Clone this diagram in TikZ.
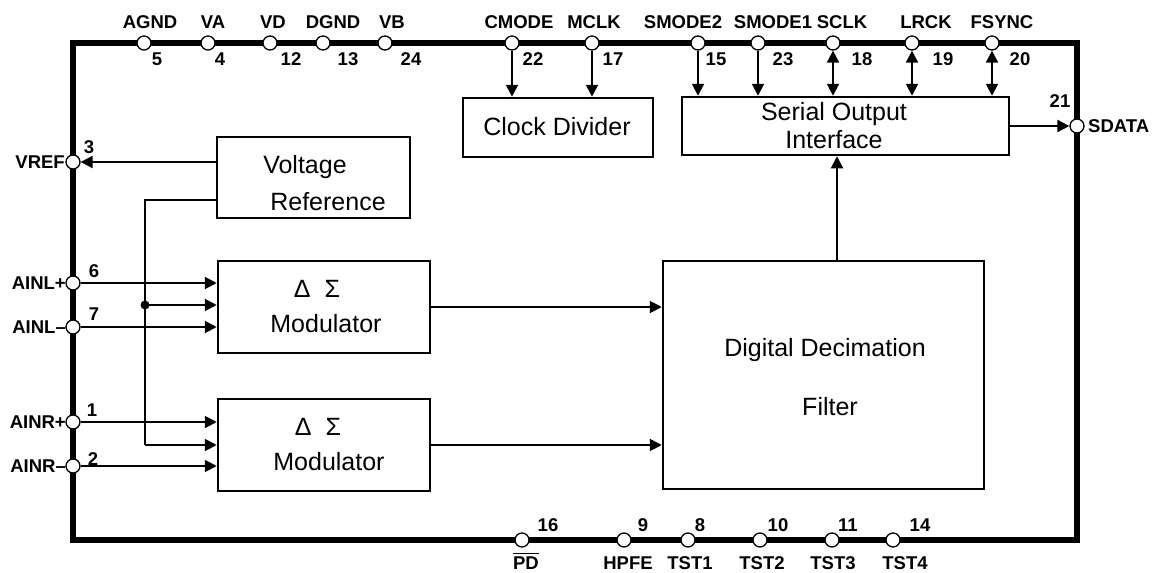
\documentclass[tikz,border=0pt]{standalone}
\usepackage{fontspec}
\setmainfont{Liberation Sans}
\usetikzlibrary{arrows.meta}
\begin{document}
\begin{tikzpicture}[x=1pt,y=-1pt,
  box/.style={draw,line width=2.5pt,inner sep=0pt},
  pin/.style={circle,draw,fill=white,line width=1.3pt,minimum size=14pt,inner sep=0pt},
  wire/.style={line width=2pt},
  arr/.style={wire,-{Triangle[length=12pt,width=12pt]}},
  darr/.style={wire,{Triangle[length=12pt,width=12pt]}-{Triangle[length=12pt,width=12pt]}},
  pl/.style={font=\fontsize{18.5}{22}\selectfont\bfseries,inner sep=0pt},
  bt/.style={font=\fontsize{25}{30}\selectfont,inner sep=0pt},
  chip/.style={line width=5.5pt}
]
\useasboundingbox (0,0) rectangle (1157,573);
% chip outline
\draw[chip] (73,43) rectangle (1077,540);

% blocks
\node[box,minimum width=190pt,minimum height=59pt] (cd) at (558,127.5) {};
\node[box,minimum width=327pt,minimum height=58pt] (so) at (845.5,126) {};
\node[box,minimum width=193pt,minimum height=81pt] (vr) at (313.5,177.5) {};
\node[box,minimum width=212pt,minimum height=92pt] (mod1) at (324,307) {};
\node[box,minimum width=212pt,minimum height=92pt] (mod2) at (324,445) {};
\node[box,minimum width=321pt,minimum height=228pt] (ddf) at (823.5,375) {};

% block texts
\node[bt] (tcd) at (557,127) {Clock Divider};
\node[bt] (tso1) at (834,114) {Serial Output};
\node[bt] (tso2) at (834,140) {Interface};
\node[bt] (tvr1) at (305,167) {Voltage};
\node[bt] (tvr2) at (328,202) {Reference};
\node[bt] (tm1a) at (317,289) {Δ\ \ Σ};
\node[bt] (tm1b) at (326,324) {Modulator};
\node[bt] (tm2a) at (318,427) {Δ\ \ Σ};
\node[bt] (tm2b) at (329,462) {Modulator};
\node[bt] (tddf1) at (825,350) {Digital Decimation};
\node[bt] (tddf2) at (830,407) {Filter};

% top pins
\foreach \nm/\x/\lx/\nx/\num in {AGND/144/150/157/5, VA/208/213/220/4, VD/270/273/291/12,
  DGND/323/333/348/13, VB/385/392/411/24, CMODE/512/519/533/22, MCLK/592/594/613/17,
  SMODE2/698/683/716/15, SMODE1/758/773/783/23, SCLK/833/842/862/18, LRCK/912/926/943/19,
  FSYNC/992/1002/1020/20}{
  \node[pin] (p\nm) at (\x,43) {};
  \node[pl] (l\nm) at (\lx,22) {\nm};
  \node[pl] (n\nm) at (\nx,59) {\num};
}

% bottom pins
\foreach \nm/\x/\lx/\nx/\num in {HPFE/624/628/643/9, TST1/688/690/700/8, TST2/760/762/778/10,
  TST3/832/833/848/11, TST4/893/905/920/14}{
  \node[pin] (p\nm) at (\x,540) {};
  \node[pl] (l\nm) at (\lx,563) {\nm};
  \node[pl] (n\nm) at (\nx,525) {\num};
}
\node[pin] (pPD) at (522,540) {};
\node[pl] (lPD) at (526,563) {PD};
\draw[line width=1.3pt] ([yshift=3pt]lPD.north west) -- ([yshift=3pt]lPD.north east);
\node[pl] (nPD) at (548,525) {16};

% left pins
\node[pin] (pVREF) at (73,162) {};
\node[pl,anchor=east] (lVREF) at (65,162) {VREF};
\node[pl] (nVREF) at (89,147) {3};
\node[pin] (pAINLp) at (73,283) {};
\node[pl,anchor=east] (lAINLp) at (66,283) {AINL+};
\node[pl] (nAINLp) at (94,271) {6};
\node[pin] (pAINLm) at (73,327) {};
\node[pl,anchor=east] (lAINLm) at (66,327) {AINL–};
\node[pl] (nAINLm) at (94,314) {7};
\node[pin] (pAINRp) at (73,422) {};
\node[pl,anchor=east] (lAINRp) at (66,422) {AINR+};
\node[pl] (nAINRp) at (92,410) {1};
\node[pin] (pAINRm) at (73,466) {};
\node[pl,anchor=east] (lAINRm) at (66,466) {AINR–};
\node[pl] (nAINRm) at (93,459) {2};

% right pin
\node[pin] (pSDATA) at (1077,126) {};
\node[pl,anchor=west] (lSDATA) at (1088,126) {SDATA};
\node[pl] (nSDATA) at (1060,101) {21};

% top connectors
\draw[arr] (pCMODE) -- (pCMODE |- cd.north);
\draw[arr] (pMCLK) -- (pMCLK |- cd.north);
\draw[arr] (pSMODE2) -- (pSMODE2 |- so.north);
\draw[arr] (pSMODE1) -- (pSMODE1 |- so.north);
\draw[darr] (pSCLK) -- (pSCLK |- so.north);
\draw[darr] (pLRCK) -- (pLRCK |- so.north);
\draw[darr] (pFSYNC) -- (pFSYNC |- so.north);
\draw[arr] (so.east |- pSDATA) -- (pSDATA);

% voltage reference
\draw[arr] (vr.west |- pVREF) -- (pVREF);
\coordinate (vtop) at (145,200);
\coordinate (jn) at (145,305);
\coordinate (vbot) at (145,445);
\draw[wire] (vr.west |- vtop) -- (vtop) -- (vbot);
\draw[arr] (vbot) -- (mod2.west |- vbot);
\draw[arr] (jn) -- (mod1.west |- jn);
\fill (jn) circle (4.5);

% analog inputs
\draw[arr] (pAINLp) -- (mod1.west |- pAINLp);
\draw[arr] (pAINLm) -- (mod1.west |- pAINLm);
\draw[arr] (pAINRp) -- (mod2.west |- pAINRp);
\draw[arr] (pAINRm) -- (mod2.west |- pAINRm);

% modulator outputs
\draw[arr] (mod1.east) -- (mod1.east -| ddf.west);
\draw[arr] (mod2.east) -- (mod2.east -| ddf.west);

% filter to serial interface
\coordinate (ddfup) at (837,261);
\draw[arr] (ddfup) -- (ddfup |- so.south);
\end{tikzpicture}
\end{document}
